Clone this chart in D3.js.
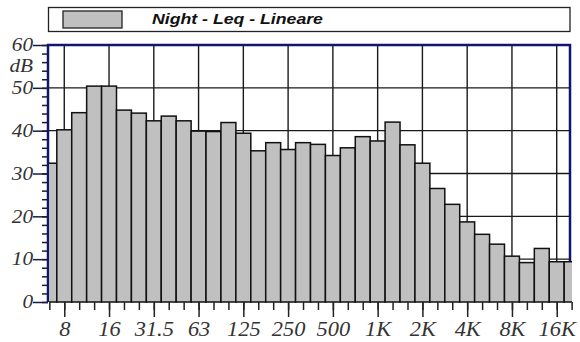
<!doctype html>
<html lang="it">
  <head>
    <meta charset="utf-8">
    <title>Night - Leq - Lineare</title>
    <style>
      body { margin: 0; background: #fff; }
      .lbl { font-family: 'Liberation Serif', 'Times New Roman', serif; font-style: italic; fill: #333; }
    </style>
  </head>
  <body>
    <script src="https://d3js.org/d3.v7.min.js"></script>
    <script>
      // third-octave bands and levels (dB)
      var bands = ["6.3", "8", "10", "12.5", "16", "20", "25", "31.5", "40", "50", "63", "80",
                   "100", "125", "160", "200", "250", "315", "400", "500", "630", "800",
                   "1K", "1.25K", "1.6K", "2K", "2.5K", "3.15K", "4K", "5K", "6.3K", "8K",
                   "10K", "12.5K", "16K", "20K"];
      var levels = [32.4, 40.2, 44.2, 50.4, 50.4, 44.8, 44.1, 42.3, 43.4, 42.3, 39.9, 39.8,
                    41.9, 39.4, 35.3, 37.2, 35.6, 37.2, 36.8, 34.2, 36.0, 38.6,
                    37.6, 42.0, 36.7, 32.4, 26.5, 22.8, 18.7, 15.8, 13.5, 10.7,
                    9.2, 12.5, 9.4, 9.4];
      var octaveLabels = ["8", "16", "31.5", "63", "125", "250", "500", "1K", "2K", "4K", "8K", "16K"];
      var yTicks = [0, 10, 20, 30, 40, 50, 60];
      var seriesName = "Night - Leq - Lineare";
      var unit = "dB";

      var W = 580, H = 342;
      var plot = { left: 48, right: 570, top: 45, bottom: 302 };
      var navy = "#14146e";

      var svg = d3.select("body").append("svg")
          .attr("width", W)
          .attr("height", H);

      // band index -> x (first and last bands are cut by the frame)
      var x = d3.scaleLinear().domain([-0.09, 34.89]).range([plot.left, plot.right]);
      var y = d3.scaleLinear().domain([0, 60]).range([plot.bottom, plot.top]);

      var octaveIdx = bands.map(function(b, i) { return i; })
          .filter(function(i) { return octaveLabels.indexOf(bands[i]) >= 0; });

      // legend
      var leg = svg.append("g");
      leg.append("rect")
          .attr("x", 48.5).attr("y", 7.5)
          .attr("width", 521.5).attr("height", 24)
          .attr("fill", "#fff").attr("stroke", "#222").attr("stroke-width", 1.3);
      leg.append("rect")
          .attr("x", 63).attr("y", 11)
          .attr("width", 59).attr("height", 17)
          .attr("fill", "#c0c0c0").attr("stroke", "#222").attr("stroke-width", 1.3);
      leg.append("text")
          .attr("transform", "translate(152,23.5) scale(1.18,1)")
          .style("font-family", "'Liberation Sans', Arial, sans-serif")
          .style("font-size", "15px")
          .style("font-weight", "bold")
          .style("font-style", "italic")
          .attr("fill", "#111")
          .text(seriesName);

      // grid
      var grid = svg.append("g").attr("stroke", "#1a1a1a").attr("stroke-width", 1.4);
      grid.selectAll(".hg")
          .data(yTicks.filter(function(v) { return v > 0 && v < 60; }))
          .enter().append("line")
          .attr("x1", plot.left).attr("x2", plot.right)
          .attr("y1", function(d) { return y(d); })
          .attr("y2", function(d) { return y(d); });
      grid.selectAll(".vg")
          .data(octaveIdx)
          .enter().append("line")
          .attr("x1", function(d) { return x(d); })
          .attr("x2", function(d) { return x(d); })
          .attr("y1", plot.top).attr("y2", plot.bottom);

      // frame
      svg.append("path")
          .attr("d", "M" + plot.left + "," + plot.bottom + "V" + plot.top + "H" + plot.right + "V" + plot.bottom)
          .attr("fill", "none")
          .attr("stroke", navy)
          .attr("stroke-width", 2.5);

      // bars
      svg.append("clipPath").attr("id", "plot")
        .append("rect")
          .attr("x", plot.left + 1).attr("y", 0)
          .attr("width", plot.right + 2 - plot.left - 1).attr("height", plot.bottom + 1);

      svg.append("g")
          .attr("clip-path", "url(#plot)")
        .selectAll(".bar")
          .data(levels)
          .enter().append("rect")
          .attr("x", function(d, i) { return x(i - 0.5); })
          .attr("width", function(d, i) { return x(i + 0.5) - x(i - 0.5); })
          .attr("y", function(d) { return y(d); })
          .attr("height", function(d) { return plot.bottom - y(d); })
          .attr("fill", "#c0c0c0")
          .attr("stroke", "#111")
          .attr("stroke-width", 1.5);

      // y axis: minor ticks every 2 dB, major every 10
      svg.append("g")
          .attr("transform", "translate(" + plot.left + ",0)")
          .call(d3.axisLeft(y).tickValues(d3.range(0, 61, 2)).tickSize(6).tickFormat(""))
          .call(function(g) { g.select(".domain").remove(); })
          .selectAll("line").attr("stroke", "#1a1a40").attr("stroke-width", 1.5);

      var yAx = svg.append("g")
          .attr("transform", "translate(" + plot.left + ",0)")
          .call(d3.axisLeft(y).tickValues(yTicks).tickSize(15).tickPadding(0))
          .call(function(g) { g.select(".domain").remove(); });
      yAx.attr("font-family", null).attr("font-size", null);
      yAx.selectAll("line").attr("stroke", "#1a1a40").attr("stroke-width", 1.5);
      yAx.selectAll("text")
          .attr("class", "lbl")
          .attr("x", 0)
          .attr("transform", "translate(-15,0) scale(1.18,1)")
          .style("font-size", "18px");

      svg.append("text")
          .attr("class", "lbl")
          .attr("transform", "translate(33,72) scale(1.18,1)")
          .attr("text-anchor", "end")
          .style("font-size", "18px")
          .text(unit);

      // x axis: a tick per band, longer labelled ticks per octave
      svg.append("g")
          .attr("transform", "translate(0," + plot.bottom + ")")
          .call(d3.axisBottom(x).tickValues(d3.range(bands.length)).tickSize(8).tickFormat(""))
          .call(function(g) { g.select(".domain").remove(); })
          .selectAll("line").attr("stroke", "#222").attr("stroke-width", 1.5);

      var xAx = svg.append("g")
          .attr("transform", "translate(0," + plot.bottom + ")")
          .call(d3.axisBottom(x).tickValues(octaveIdx).tickSize(15)
            .tickFormat(function(i) { return bands[i]; }))
          .call(function(g) { g.select(".domain").remove(); });
      xAx.attr("font-family", null).attr("font-size", null);
      xAx.selectAll("line").attr("stroke", "#222").attr("stroke-width", 1.5);
      xAx.selectAll("text")
          .attr("class", "lbl")
          .attr("y", 0).attr("dy", null)
          .attr("transform", "translate(0,34) scale(1.12,1)")
          .style("font-size", "20px");
    </script>
  </body>
</html>
